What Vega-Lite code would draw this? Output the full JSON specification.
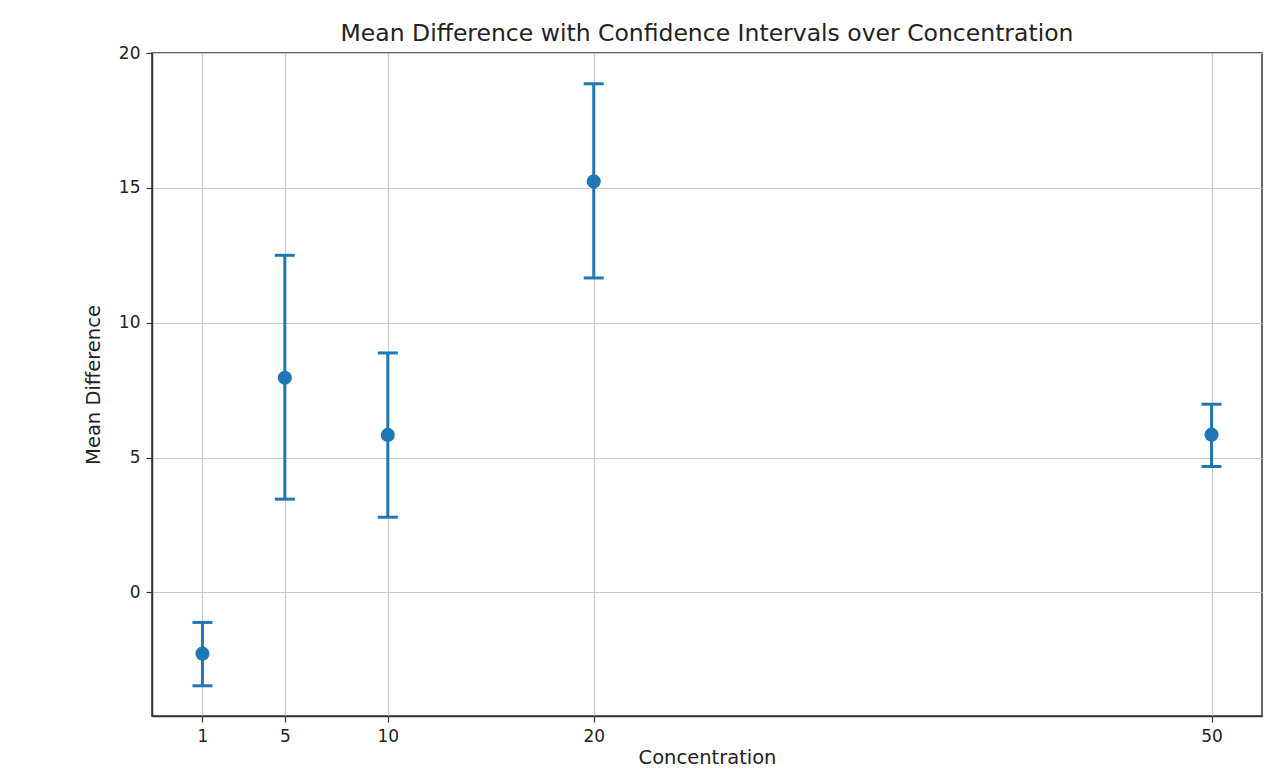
{
  "$schema": "https://vega.github.io/schema/vega-lite/v6.json",
  "width": 1110,
  "height": 663,
  "autosize": {"type": "none"},
  "padding": {"left": 152, "top": 53, "right": 23, "bottom": 53},
  "background": "white",
  "title": {
    "text": "Mean Difference with Confidence Intervals over Concentration",
    "font": "DejaVu Sans",
    "fontSize": 23.5,
    "fontWeight": "normal",
    "color": "#222222",
    "anchor": "middle",
    "offset": -1
  },
  "config": {
    "view": {"stroke": "#333333", "strokeWidth": 1.5},
    "axis": {
      "labelFont": "DejaVu Sans",
      "labelFontSize": 17,
      "labelColor": "#222222",
      "titleFont": "DejaVu Sans",
      "titleFontSize": 19.5,
      "titleFontWeight": "normal",
      "titleColor": "#222222",
      "domainColor": "#333333",
      "domainWidth": 1.5,
      "tickColor": "#333333",
      "tickSize": 6,
      "tickWidth": 1.2,
      "gridColor": "#c8c8c8",
      "gridWidth": 1.2,
      "labelPadding": 6
    }
  },
  "data": {
    "values": [
      {"concentration": 1, "mean": -2.27, "lower": -3.46, "upper": -1.11},
      {"concentration": 5, "mean": 7.96, "lower": 3.46, "upper": 12.5},
      {"concentration": 10, "mean": 5.84, "lower": 2.79, "upper": 8.88},
      {"concentration": 20, "mean": 15.24, "lower": 11.66, "upper": 18.86},
      {"concentration": 50, "mean": 5.85, "lower": 4.67, "upper": 6.98}
    ]
  },
  "layer": [
    {
      "mark": {"type": "rule", "color": "#1f77b4", "strokeWidth": 3},
      "encoding": {
        "x": {
          "field": "concentration",
          "type": "quantitative",
          "scale": {"domain": [-1.45, 52.45], "nice": false, "zero": false},
          "axis": {"values": [1, 5, 10, 20, 50], "title": "Concentration", "titlePadding": 4, "grid": true}
        },
        "y": {
          "field": "lower",
          "type": "quantitative",
          "scale": {"domain": [-4.58, 20.0], "nice": false, "zero": false},
          "axis": {"values": [0, 5, 10, 15, 20], "title": "Mean Difference", "titlePadding": 15, "grid": true}
        },
        "y2": {"field": "upper"}
      }
    },
    {
      "mark": {"type": "tick", "orient": "horizontal", "color": "#1f77b4", "size": 20, "thickness": 3, "opacity": 1},
      "encoding": {
        "x": {"field": "concentration", "type": "quantitative"},
        "y": {"field": "lower", "type": "quantitative"}
      }
    },
    {
      "mark": {"type": "tick", "orient": "horizontal", "color": "#1f77b4", "size": 20, "thickness": 3, "opacity": 1},
      "encoding": {
        "x": {"field": "concentration", "type": "quantitative"},
        "y": {"field": "upper", "type": "quantitative"}
      }
    },
    {
      "mark": {"type": "point", "filled": true, "color": "#1f77b4", "size": 200, "opacity": 1},
      "encoding": {
        "x": {"field": "concentration", "type": "quantitative"},
        "y": {"field": "mean", "type": "quantitative"}
      }
    }
  ]
}
